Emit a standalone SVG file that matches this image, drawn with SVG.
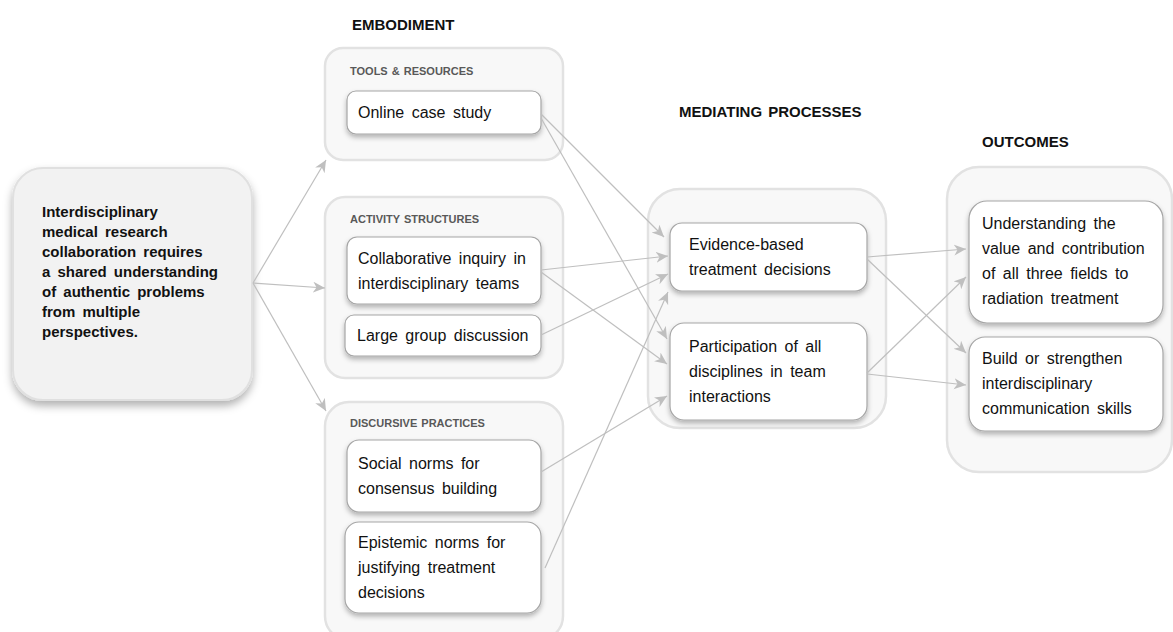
<svg xmlns="http://www.w3.org/2000/svg" width="1173" height="632" viewBox="0 0 1173 632">
<defs>
<style>
.t{font-family:"Liberation Sans",Arial,sans-serif;font-size:16px;fill:#111;word-spacing:3px}
.b{font-family:"Liberation Sans",Arial,sans-serif;font-size:15px;font-weight:bold;fill:#111;word-spacing:3px}
.h{font-family:"Liberation Sans",Arial,sans-serif;font-size:15px;font-weight:bold;fill:#111;word-spacing:2px}
.s{font-family:"Liberation Sans",Arial,sans-serif;font-size:11px;font-weight:bold;fill:#595959;word-spacing:1px}
.grp{fill:#f8f8f8;stroke:#e2e2e2;stroke-width:2.5}
.main{fill:#f2f2f2;stroke:#e0e0e0;stroke-width:2}
.box{fill:#fff;stroke:#a6a6a6;stroke-width:1.2}
.c{stroke:#bfbfbf;stroke-width:1.2;fill:none;marker-end:url(#ah)}
</style>
<filter id="sh" x="-10%" y="-10%" width="120%" height="130%">
<feDropShadow dx="0" dy="3" stdDeviation="2.5" flood-color="#000" flood-opacity="0.28"/>
</filter>
<filter id="sh2" x="-10%" y="-10%" width="120%" height="130%">
<feDropShadow dx="0" dy="5" stdDeviation="4" flood-color="#000" flood-opacity="0.3"/>
</filter>
<marker id="ah" markerUnits="userSpaceOnUse" markerWidth="14" markerHeight="12" refX="12" refY="5.5" orient="auto">
<path d="M0,0 L12,5.5 L0,11 L3.5,5.5 z" fill="#bfbfbf"/>
</marker>
</defs>

<text class="h" x="352" y="30">EMBODIMENT</text>
<text class="h" x="679" y="117">MEDIATING PROCESSES</text>
<text class="h" x="982" y="147">OUTCOMES</text>

<g id="main">
<rect class="main" x="13" y="168" width="239" height="232" rx="30" filter="url(#sh2)"/>
<text class="b" x="42" y="217">Interdisciplinary</text>
<text class="b" x="42" y="237">medical research</text>
<text class="b" x="42" y="257">collaboration requires</text>
<text class="b" x="42" y="277">a shared understanding</text>
<text class="b" x="42" y="297">of authentic problems</text>
<text class="b" x="42" y="317">from multiple</text>
<text class="b" x="42" y="337">perspectives.</text>
</g>

<g id="tools">
<rect class="grp" x="325" y="48" width="238" height="112" rx="18"/>
<text class="s" x="350" y="75">TOOLS &amp; RESOURCES</text>
<g id="online">
<rect class="box" x="347" y="91" width="194" height="43" rx="9" filter="url(#sh)"/>
<text class="t" x="358" y="118">Online case study</text>
</g>
</g>

<g id="activity">
<rect class="grp" x="325" y="197" width="238" height="181" rx="20"/>
<text class="s" x="350" y="223">ACTIVITY STRUCTURES</text>
<g id="collab">
<rect class="box" x="347" y="237" width="194" height="67" rx="10" filter="url(#sh)"/>
<text class="t" x="358" y="264">Collaborative inquiry in</text>
<text class="t" x="358" y="289">interdisciplinary teams</text>
</g>
<g id="large">
<rect class="box" x="345" y="315" width="196" height="41" rx="9" filter="url(#sh)"/>
<text class="t" x="357" y="341">Large group discussion</text>
</g>
</g>

<g id="discursive">
<rect class="grp" x="325" y="402" width="238" height="238" rx="24"/>
<text class="s" x="350" y="427">DISCURSIVE PRACTICES</text>
<g id="social">
<rect class="box" x="347" y="440" width="194" height="72" rx="12" filter="url(#sh)"/>
<text class="t" x="358" y="469">Social norms for</text>
<text class="t" x="358" y="494">consensus building</text>
</g>
<g id="epistemic">
<rect class="box" x="345" y="522" width="196" height="91" rx="14" filter="url(#sh)"/>
<text class="t" x="358" y="548">Epistemic norms for</text>
<text class="t" x="358" y="573">justifying treatment</text>
<text class="t" x="358" y="598">decisions</text>
</g>
</g>

<g id="mediating">
<rect class="grp" x="648" y="189" width="238" height="239" rx="32"/>
<g id="evidence">
<rect class="box" x="670" y="223" width="197" height="68" rx="12" filter="url(#sh)"/>
<text class="t" x="689" y="250">Evidence-based</text>
<text class="t" x="689" y="275">treatment decisions</text>
</g>
<g id="participation">
<rect class="box" x="670" y="323" width="197" height="97" rx="14" filter="url(#sh)"/>
<text class="t" x="689" y="352">Participation of all</text>
<text class="t" x="689" y="377">disciplines in team</text>
<text class="t" x="689" y="402">interactions</text>
</g>
</g>

<g id="outcomes">
<rect class="grp" x="947" y="167" width="225" height="305" rx="32"/>
<g id="understanding">
<rect class="box" x="969" y="201" width="194" height="122" rx="18" filter="url(#sh)"/>
<text class="t" x="982" y="229">Understanding the</text>
<text class="t" x="982" y="254">value and contribution</text>
<text class="t" x="982" y="279">of all three fields to</text>
<text class="t" x="982" y="304">radiation treatment</text>
</g>
<g id="build">
<rect class="box" x="969" y="337" width="194" height="94" rx="16" filter="url(#sh)"/>
<text class="t" x="982" y="364">Build or strengthen</text>
<text class="t" x="982" y="389">interdisciplinary</text>
<text class="t" x="982" y="414">communication skills</text>
</g>
</g>

<g id="connectors">
<line class="c" x1="253" y1="283" x2="326" y2="160"/>
<line class="c" x1="253" y1="283" x2="325" y2="288"/>
<line class="c" x1="253" y1="283" x2="326" y2="411"/>
<line class="c" x1="541" y1="114" x2="664" y2="237"/>
<line class="c" x1="541" y1="118" x2="667" y2="339"/>
<line class="c" x1="541" y1="270" x2="668" y2="256"/>
<line class="c" x1="541" y1="272" x2="667" y2="364"/>
<line class="c" x1="541" y1="335" x2="668" y2="274"/>
<line class="c" x1="541" y1="472" x2="667" y2="396"/>
<line class="c" x1="545" y1="568" x2="668" y2="292"/>
<line class="c" x1="867" y1="257" x2="966" y2="249"/>
<line class="c" x1="867" y1="259" x2="966" y2="353"/>
<line class="c" x1="867" y1="373" x2="966" y2="277"/>
<line class="c" x1="867" y1="374" x2="966" y2="385"/>
</g>
</svg>
